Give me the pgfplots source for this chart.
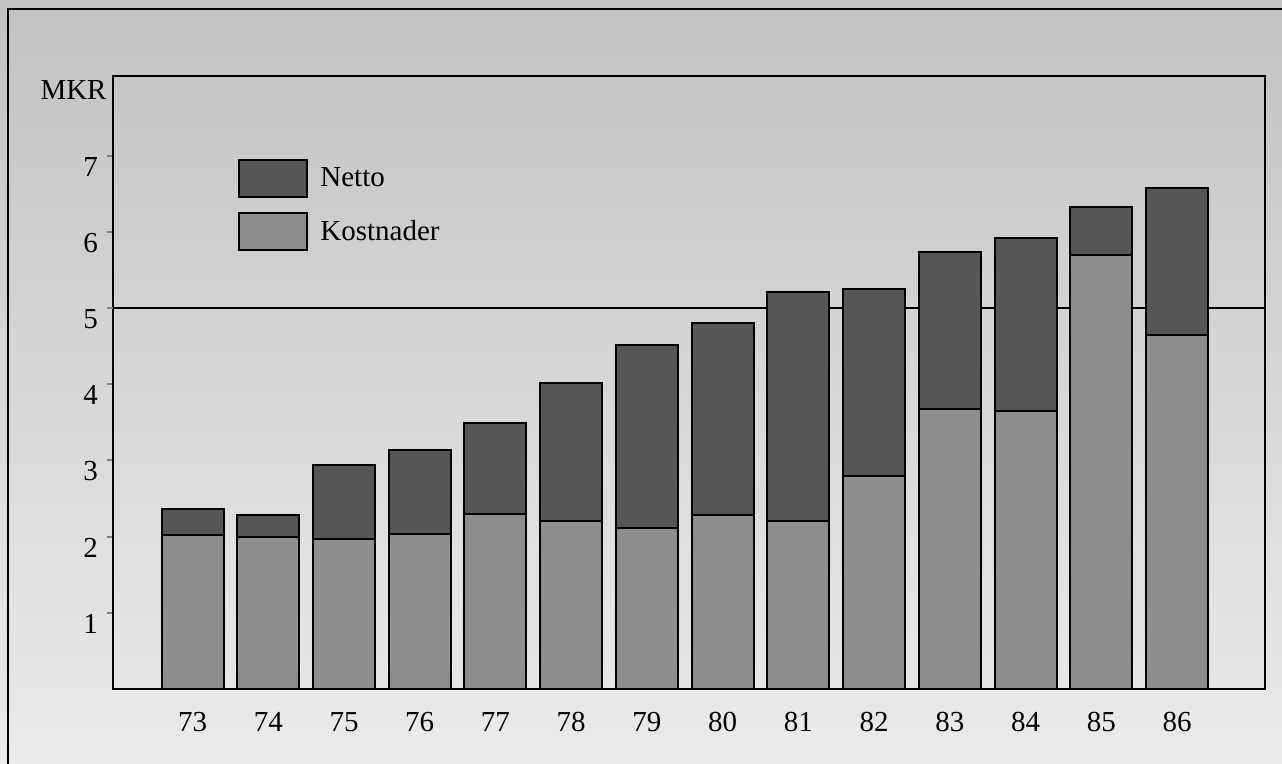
\documentclass[border=0pt]{standalone}
\usepackage{fontspec}
\setmainfont{Liberation Serif}
\usepackage{pgfplots}
\pgfplotsset{compat=1.18}
\definecolor{nettoC}{HTML}{565656}
\definecolor{kostC}{HTML}{8E8E8E}
\begin{document}
\begin{tikzpicture}
\path[use as bounding box] (-56.5pt,-37.5pt) rectangle (584.5pt,344.5pt);
\shade[top color=black!24, bottom color=black!8] (-56.5pt,-37.5pt) rectangle (584.5pt,344.5pt);
\draw[line width=1pt] (-52.5pt,-37.5pt) -- (-52.5pt,340pt) -- (584.5pt,340pt);
\begin{axis}[
  at={(0,0)}, anchor=south west,
  scale only axis,
  clip=false,
  width=576pt, height=306.5pt,
  xmin=-1.05, xmax=14.16,
  ymin=0, ymax=8.045,
  ybar stacked,
  bar width=31pt,
  axis line style={line width=1.2pt},
  xtick={0,...,13},
  xticklabels={73,74,75,76,77,78,79,80,81,82,83,84,85,86},
  xtick style={draw=none},
  ytick={1,2,3,4,5,6,7},
  ytick pos=left,
  tick align=outside,
  major tick length=3pt,
  ytick style={line width=1pt},
  extra y ticks={5},
  extra y tick labels={},
  extra y tick style={grid=major, major grid style={black, line width=1pt}},
  tick label style={font=\fontsize{14.5}{16}\selectfont},
  /pgf/number format/assume math mode=true,
  yticklabel style={yshift=-5.5pt, xshift=-1pt},
  xticklabel style={yshift=-5pt, text height=9.5pt, text depth=0pt},
  reverse legend,
  legend cell align=left,
  legend image code/.code={\draw[#1] (0pt,-9.25pt) rectangle (34pt,9.25pt); \path (38pt,0pt);},
  legend style={draw=none, fill=none, inner sep=0pt,
    at={(axis description cs:0.1085,0.8646)}, anchor=north west,
    font=\fontsize{14.5}{16}\selectfont, row sep=7pt},
]
\addplot[fill=kostC, draw=black, line width=1pt] coordinates {
(0,2.02) (1,1.99) (2,1.97) (3,2.03) (4,2.30) (5,2.21) (6,2.11)
(7,2.28) (8,2.21) (9,2.79) (10,3.67) (11,3.65) (12,5.70) (13,4.64)};
\addlegendentry{Kostnader}
\addplot[fill=nettoC, draw=black, line width=1pt] coordinates {
(0,0.34) (1,0.29) (2,0.97) (3,1.10) (4,1.19) (5,1.80) (6,2.40)
(7,2.52) (8,3.00) (9,2.46) (10,2.06) (11,2.27) (12,0.62) (13,1.94)};
\addlegendentry{Netto}
\node[anchor=north east, font=\fontsize{14.5}{16}\selectfont, inner sep=0pt] at ([xshift=-3pt,yshift=-2pt]rel axis cs:0,1) {MKR};
\end{axis}
\end{tikzpicture}
\end{document}
